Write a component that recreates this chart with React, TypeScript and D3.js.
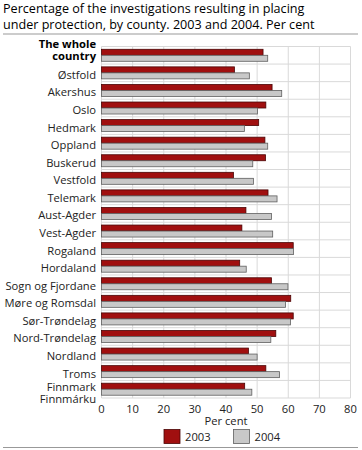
import React from "react";
import * as d3 from "d3";

const counties = [
  "The whole country",
  "Østfold",
  "Akershus",
  "Oslo",
  "Hedmark",
  "Oppland",
  "Buskerud",
  "Vestfold",
  "Telemark",
  "Aust-Agder",
  "Vest-Agder",
  "Rogaland",
  "Hordaland",
  "Sogn og Fjordane",
  "Møre og Romsdal",
  "Sør-Trøndelag",
  "Nord-Trøndelag",
  "Nordland",
  "Troms",
  "Finnmark Finnmárku",
];

const values2003 = [
  51.9, 42.7, 54.8, 52.8, 50.5, 52.5, 52.7, 42.4, 53.5, 46.4, 45.1, 61.6, 44.4,
  54.6, 60.8, 61.6, 56.0, 47.2, 52.8, 46.0,
];
const values2004 = [
  53.4, 47.5, 57.9, 50.1, 45.9, 53.4, 48.6, 48.8, 56.4, 54.6, 55.0, 61.7, 46.5,
  59.9, 59.1, 60.7, 54.4, 50.0, 57.2, 48.3,
];

const xTicks = [0, 10, 20, 30, 40, 50, 60, 70, 80];
const seriesNames = ["2003", "2004"];

// label lines for multi-line category names
const labelLines: Record<string, string[]> = {
  "The whole country": ["The whole", "country"],
  "Finnmark Finnmárku": ["Finnmark", "Finnmárku"],
};

const RED = "#a00f0f";
const RED_STROKE = "#4a0505";
const GREY = "#c8c8c8";
const GREY_STROKE = "#5f5f5f";
const GRID = "#d9d9d9";
const FONT = "'Open Sans', sans-serif";
const LABEL_SIZE = 11.2;

const W = 362;
const H = 450;
const left = 101.5;
const right = 350.5;
const top = 46.5;
const bottom = 398;

const App: React.FC = () => {
  const x = d3.scaleLinear().domain([0, 80]).range([left, right]);
  const y = d3.scaleBand<string>().domain(counties).range([top, bottom]);
  const bh = 6;

  return (
    <svg
      width={W}
      height={H}
      style={{ position: "absolute", left: 0, top: 0 }}
      fontFamily={FONT}
    >
      <rect width={W} height={H} fill="#fff" />
      <text x={3} y={12.5} fontSize={12.6} fill="#000">
        Percentage of the investigations resulting in placing
      </text>
      <text x={3} y={28.5} fontSize={12.6} fill="#000">
        under protection, by county. 2003 and 2004. Per cent
      </text>
      <line x1={3} x2={358} y1={34} y2={34} stroke="#999" strokeWidth={1} />

      {/* grid */}
      {xTicks.map((t) => (
        <line
          key={"g" + t}
          x1={x(t)}
          x2={x(t)}
          y1={top}
          y2={bottom}
          stroke={GRID}
          strokeWidth={1}
        />
      ))}
      {counties.map((c, i) => (
        <line
          key={"h" + i}
          x1={left}
          x2={right}
          y1={(y(c) as number) + y.bandwidth()}
          y2={(y(c) as number) + y.bandwidth()}
          stroke={GRID}
        />
      ))}
      <line x1={left} x2={right} y1={top} y2={top} stroke={GRID} />

      {/* bars */}
      {counties.map((c, i) => {
        const cy = (y(c) as number) + y.bandwidth() / 2;
        return (
          <g key={"b" + i}>
            <rect
              x={x(0)}
              y={cy - bh}
              width={x(values2003[i]) - x(0)}
              height={bh}
              fill={RED}
              stroke={RED_STROKE}
              strokeWidth={0.8}
            />
            <rect
              x={x(0)}
              y={cy}
              width={x(values2004[i]) - x(0)}
              height={bh}
              fill={GREY}
              stroke={GREY_STROKE}
              strokeWidth={0.8}
            />
          </g>
        );
      })}

      {/* category labels */}
      {counties.map((c, i) => {
        const cy = (y(c) as number) + y.bandwidth() / 2;
        const lines = labelLines[c];
        if (c === "The whole country") {
          return (
            <g
              key={"l" + i}
              fontWeight="bold"
              fontSize={LABEL_SIZE}
              textAnchor="end"
            >
              <text x={96} y={cy - 7}>
                {lines[0]}
              </text>
              <text x={96} y={cy + 5}>
                {lines[1]}
              </text>
            </g>
          );
        }
        if (lines) {
          return (
            <g key={"l" + i} fontSize={LABEL_SIZE} textAnchor="end" fill="#222">
              <text x={96} y={cy + 1.5}>
                {lines[0]}
              </text>
              <text x={96} y={cy + 14}>
                {lines[1]}
              </text>
            </g>
          );
        }
        return (
          <text
            key={"l" + i}
            x={96}
            y={cy + 6}
            fontSize={LABEL_SIZE}
            textAnchor="end"
            fill="#222"
          >
            {c}
          </text>
        );
      })}

      {/* x axis */}
      {xTicks.map((t) => (
        <text
          key={"t" + t}
          x={x(t)}
          y={413}
          fontSize={LABEL_SIZE}
          textAnchor="middle"
          fill="#222"
        >
          {t}
        </text>
      ))}
      <text
        x={(left + right) / 2}
        y={424.5}
        fontSize={LABEL_SIZE}
        textAnchor="middle"
        fill="#222"
      >
        Per cent
      </text>

      {/* legend */}
      {seriesNames.map((s, i) => {
        const lx = i === 0 ? 164 : 233.5;
        return (
          <g key={"lg" + s}>
            <rect
              x={lx}
              y={429.5}
              width={16}
              height={14}
              fill={i === 0 ? RED : GREY}
              stroke={i === 0 ? RED_STROKE : GREY_STROKE}
              strokeWidth={0.8}
            />
            <text x={lx + 21} y={441} fontSize={LABEL_SIZE} fill="#222">
              {s}
            </text>
          </g>
        );
      })}
      <line x1={3} x2={358} y1={447.5} y2={447.5} stroke="#999" />
    </svg>
  );
};

export default App;
